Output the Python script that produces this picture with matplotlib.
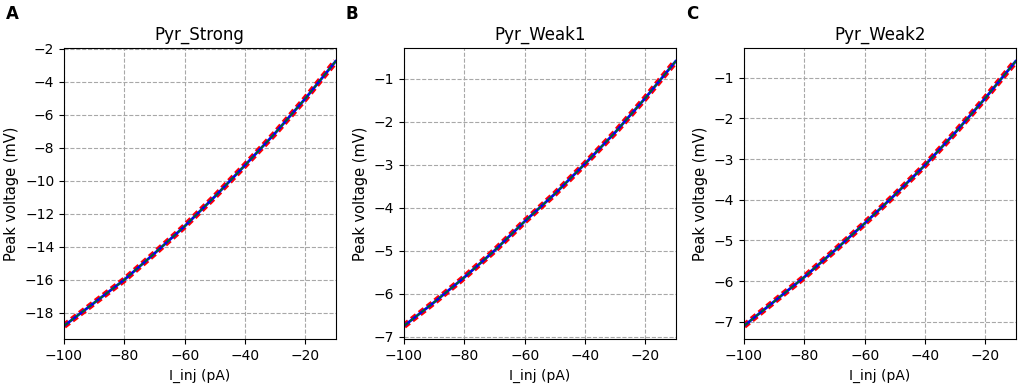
import matplotlib
matplotlib.use("Agg")
from matplotlib import pyplot as plt

# injected current (pA)
i_inj = [-100, -90, -80, -70, -60, -50, -40, -30, -20, -10]

# peak voltage (mV) per cell type
v_strong = [-18.8, -17.4, -16.0, -14.4, -12.75, -10.95, -9.05, -7.1, -5.0, -2.75]
v_weak1 = [-6.75, -6.2, -5.62, -5.0, -4.32, -3.68, -2.98, -2.25, -1.45, -0.6]
v_weak2 = [-7.1, -6.5, -5.9, -5.25, -4.58, -3.88, -3.15, -2.35, -1.5, -0.6]

titles = ["Pyr_Strong", "Pyr_Weak1", "Pyr_Weak2"]
letters = ["A", "B", "C"]
series = [v_strong, v_weak1, v_weak2]

fig = plt.figure(figsize=(10.21, 3.88), dpi=100)
lefts = [0.0627, 0.3957, 0.7287]

for left, title, letter, v in zip(lefts, titles, letters, series):
    ax = fig.add_axes([left, 0.126, 0.266, 0.75])
    ax.plot(i_inj, v, color="red", lw=4.5, ls=(0, (1, 0.6)))
    ax.plot(i_inj, v, color="blue", lw=2)
    ax.plot(i_inj, v, color="green", lw=1, ls="--")
    ax.set_xlim(-100, -10)
    ax.margins(y=0.05)
    ax.grid(True, ls="--", color="#a8a8a8")
    ax.set_title(title, fontsize=12)
    ax.set_xlabel("I_inj (pA)")
    ax.set_ylabel("Peak voltage (mV)", fontsize=10.5)
    ax.set_xticks([-100, -80, -60, -40, -20])
    fig.text(left - 0.057, 0.95, letter, fontsize=12, fontweight="bold")

fig.savefig("out.png", dpi=100)
